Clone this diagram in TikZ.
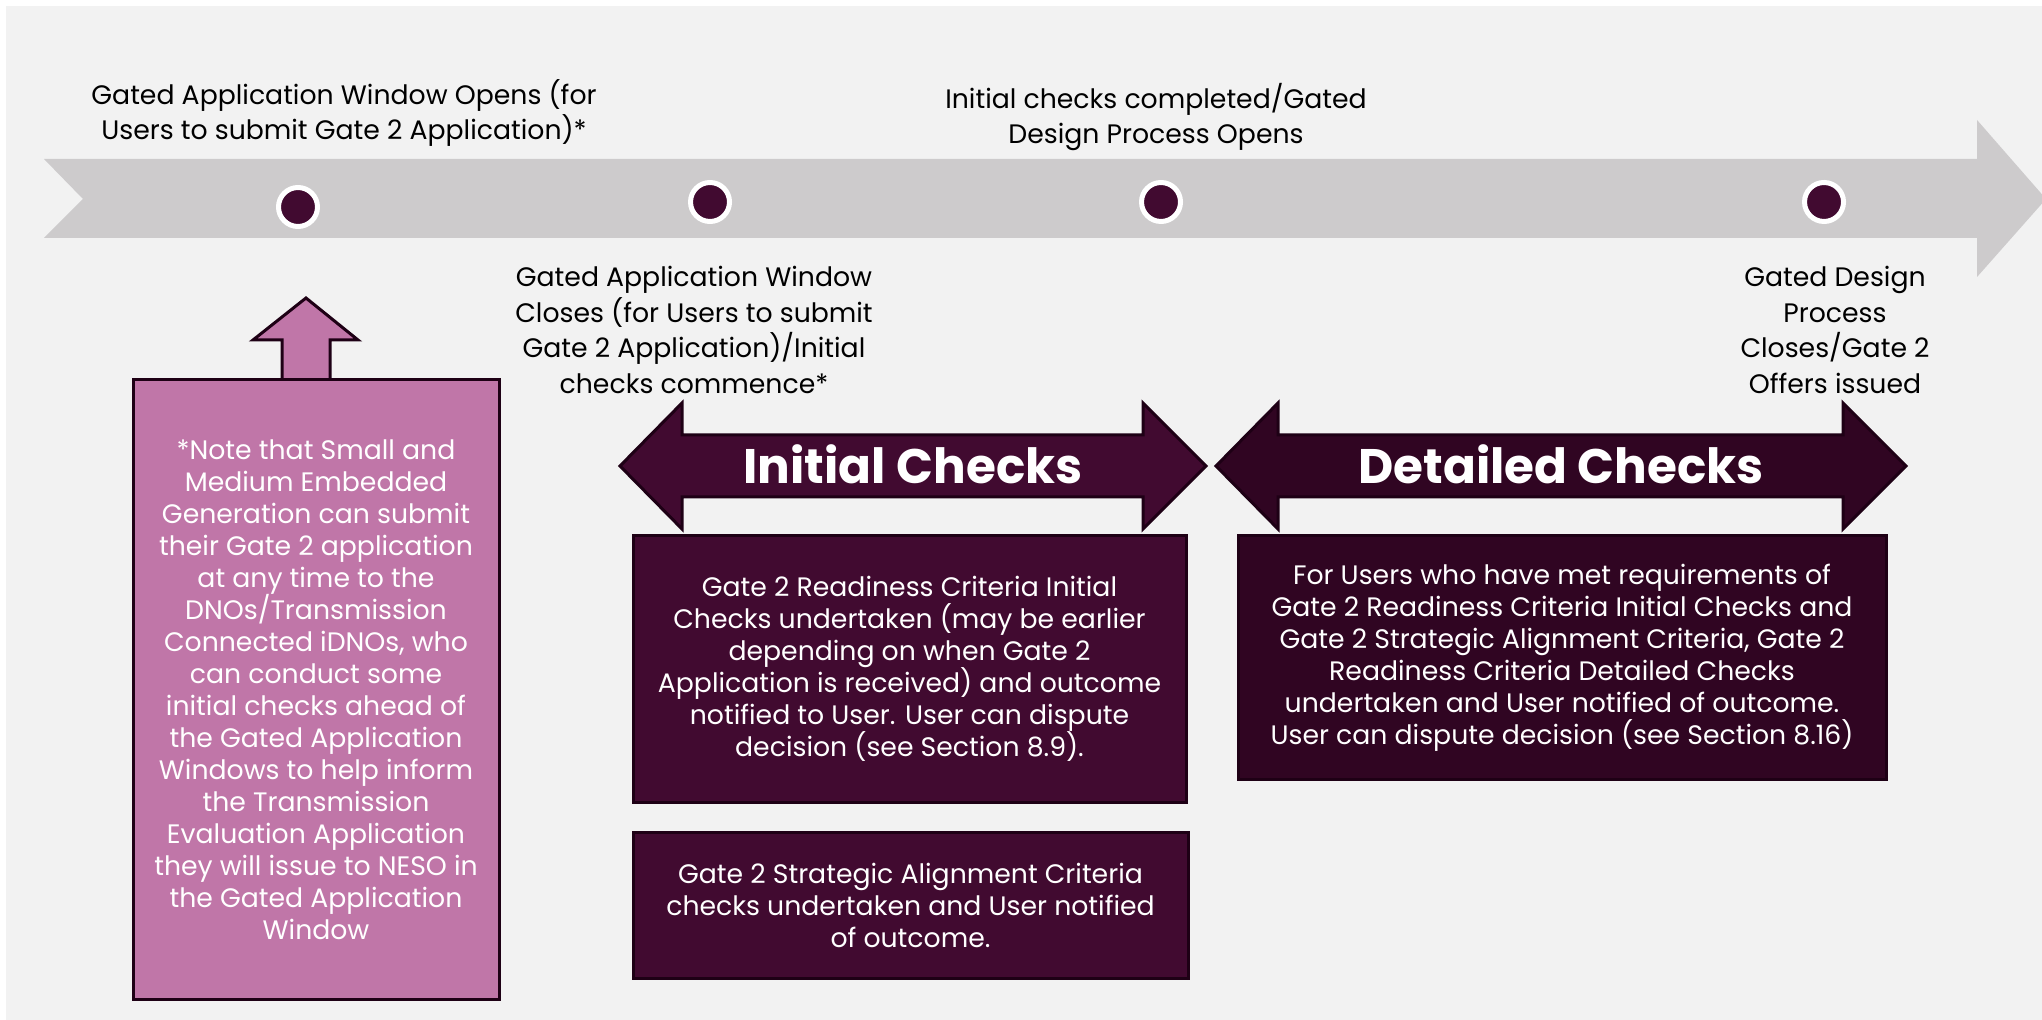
\documentclass[tikz,border=0pt]{standalone}
\usepackage{fontspec}
\setmainfont{Poppins}
\usepackage{tikz}
\usetikzlibrary{positioning}

\definecolor{bggray}{HTML}{F2F2F2}
\definecolor{bandgray}{HTML}{CDCBCC}
\definecolor{plum}{HTML}{410A30}
\definecolor{darkplum}{HTML}{300522}
\definecolor{edgeplum}{HTML}{1E0015}
\definecolor{mauve}{HTML}{C076A8}

\newcommand{\tightlines}{\setlength{\lineskiplimit}{-5pt}\setlength{\lineskip}{0pt}}

\tikzset{
    dot/.style = {circle, fill = plum, draw = white, line width = 0.05cm, minimum size = 0.39cm, inner sep = 0},
    milestone/.style = {align = center, text = black, inner sep = 0, font = \fontsize{7.6}{10.1}\selectfont\tightlines},
    checkbox/.style = {rectangle, draw = edgeplum, line width = 0.03cm, fill = plum, text = white, align = center, inner sep = 0, font = \fontsize{7.6}{9.1}\selectfont\tightlines},
    blockarrow/.style = {draw = edgeplum, line width = 0.03cm, line join = miter},
    phase/.style = {text = white, inner sep = 0, font = \fontsize{13.8}{16}\selectfont\bfseries},
}

\begin{document}
\begin{tikzpicture}
        \useasboundingbox (0, 0) rectangle (20.42, -10.20);
        \fill[white] (0, 0) rectangle (20.42, -10.20);
        \fill[bggray] (0.06, -0.06) rectangle (20.42, -10.20);

        % timeline
        \fill[bandgray]
            (0.44, -1.59) -- (19.77, -1.59) -- (19.77, -1.20) -- (20.46, -1.99)
            -- (19.77, -2.77) -- (19.77, -2.38) -- (0.44, -2.38) -- (0.83, -1.99) -- cycle
        ;
        \draw
            (2.98, -2.07) node[dot](open){}
            (7.10, -2.02) node[dot](close){}
            (11.61, -2.02) node[dot](design){}
            (18.24, -2.02) node[dot](offers){}
        ;

        % milestone texts
        \draw
            (3.44, -1.13) node[milestone](openL){Gated Application Window Opens (for\\Users to submit Gate 2 Application)*}
            (11.56, -1.17) node[milestone](designL){Initial checks completed/Gated\\Design Process Opens}
            (6.94, -3.30) node[milestone](closeL){Gated Application Window\\Closes (for Users to submit\\Gate 2 Application)/Initial\\checks commence*}
            (18.35, -3.30) node[milestone](offersL){Gated Design\\Process\\Closes/Gate 2\\Offers issued}
        ;

        % note with arrow up to the timeline
        \draw[blockarrow, fill = mauve]
            (2.82, -3.80) -- (2.82, -3.40) -- (2.53, -3.40) -- (3.06, -2.98)
            -- (3.58, -3.40) -- (3.30, -3.40) -- (3.30, -3.80)
        ;
        \draw
            (3.16, -6.895) node[checkbox, fill = mauve, minimum width = 3.66cm, minimum height = 6.19cm](note){*Note that Small and\\Medium Embedded\\Generation can submit\\their Gate 2 application\\at any time to the\\DNOs/Transmission\\Connected iDNOs, who\\can conduct some\\initial checks ahead of\\the Gated Application\\Windows to help inform\\the Transmission\\Evaluation Application\\they will issue to NESO in\\the Gated Application\\Window}
        ;

        % phases
        \draw[blockarrow, fill = plum]
            (6.20, -4.66) -- (6.82, -4.03) -- (6.82, -4.35) -- (11.43, -4.35) -- (11.43, -4.03) -- (12.06, -4.66)
            -- (11.43, -5.29) -- (11.43, -4.97) -- (6.82, -4.97) -- (6.82, -5.29) -- cycle
        ;
        \draw[blockarrow, fill = darkplum]
            (12.16, -4.66) -- (12.78, -4.03) -- (12.78, -4.35) -- (18.43, -4.35) -- (18.43, -4.03) -- (19.06, -4.66)
            -- (18.43, -5.29) -- (18.43, -4.97) -- (12.78, -4.97) -- (12.78, -5.29) -- cycle
        ;
        \draw
            (9.13, -4.64) node[phase](initial){Initial Checks}
            (15.61, -4.64) node[phase](detailed){Detailed Checks}
        ;

        % check boxes
        \draw
            (9.095, -6.69) node[checkbox, minimum width = 5.53cm, minimum height = 2.66cm](readiness){Gate 2 Readiness Criteria Initial\\Checks undertaken (may be earlier\\depending on when Gate 2\\Application is received) and outcome\\notified to User. User can dispute\\decision (see Section 8.9).}
            (9.105, -9.05) node[checkbox, minimum width = 5.55cm, minimum height = 1.46cm](strategic){Gate 2 Strategic Alignment Criteria\\checks undertaken and User notified\\of outcome.}
            (15.62, -6.575) node[checkbox, fill = darkplum, minimum width = 6.48cm, minimum height = 2.43cm](detailedbox){For Users who have met requirements of\\Gate 2 Readiness Criteria Initial Checks and\\Gate 2 Strategic Alignment Criteria, Gate 2\\Readiness Criteria Detailed Checks\\undertaken and User notified of outcome.\\User can dispute decision (see Section 8.16)}
        ;
    \end{tikzpicture}
\end{document}
